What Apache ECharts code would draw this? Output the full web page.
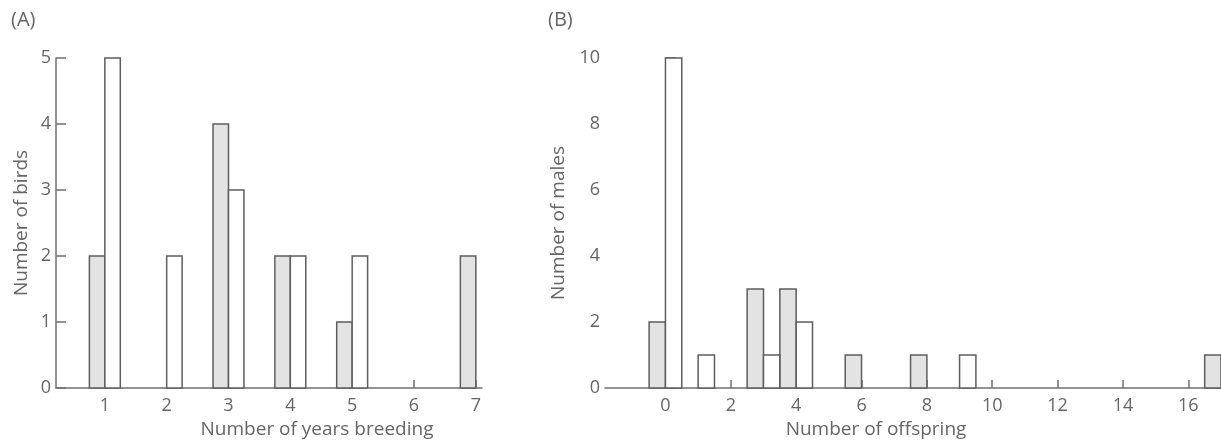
<!DOCTYPE html>
<html>
<head>
<meta charset="utf-8">
<script src="https://cdn.jsdelivr.net/npm/echarts@6/dist/echarts.min.js"></script>
<style>
  html, body { margin: 0; padding: 0; background: #fff; }
  #chart { width: 1221px; height: 446px; }
</style>
</head>
<body>
<div id="chart"></div>
<script>
// Panel A: number of years breeding
const yearsCats = [1, 2, 3, 4, 5, 6, 7];
const yearsShaded = [2, 0, 4, 2, 1, 0, 2];
const yearsOpen = [5, 2, 3, 2, 2, 0, 0];
const yearsTicks = [1, 2, 3, 4, 5, 6, 7];

// Panel B: number of offspring
const offspringCats = [0, 1, 2, 3, 4, 5, 6, 7, 8, 9, 10, 11, 12, 13, 14, 15, 16, 17];
const offspringShaded = [2, 0, 0, 3, 3, 0, 1, 0, 1, 0, 0, 0, 0, 0, 0, 0, 0, 1];
const offspringOpen = [10, 1, 0, 1, 2, 0, 0, 0, 0, 1, 0, 0, 0, 0, 0, 0, 0, 0];
const offspringTicks = [0, 2, 4, 6, 8, 10, 12, 14, 16];

const textColor = '#666';
const lineColor = '#707070';
const font = 'Open Sans';

const pairs = (cats, vals) => cats.map((c, i) => [c, vals[i]]).filter(d => d[1] > 0);

// bar drawn from x+from to x+to (data units) through the axis scales
function barSeries(gridIdx, data, from, to, fill) {
  return {
    type: 'custom',
    xAxisIndex: gridIdx,
    yAxisIndex: gridIdx,
    data: data,
    renderItem: (params, api) => {
      const x = api.value(0);
      const p0 = api.coord([x + from, api.value(1)]);
      const p1 = api.coord([x + to, 0]);
      return {
        type: 'rect',
        shape: { x: p0[0], y: p0[1], width: p1[0] - p0[0], height: p1[1] - p0[1] },
        style: { fill: fill, stroke: '#5e5e5e', lineWidth: 1.5 }
      };
    }
  };
}

function xAxis(gridIdx, min, max, ticks, name, pad) {
  return {
    type: 'value', gridIndex: gridIdx, min: min, max: max,
    name: name, nameLocation: 'middle', nameGap: 30,
    nameTextStyle: { color: textColor, fontFamily: font, fontSize: 19, padding: pad },
    axisLine: { show: true, lineStyle: { color: lineColor, width: 1.5 } },
    axisTick: { show: true, inside: true, length: 8, customValues: ticks, lineStyle: { color: lineColor, width: 1.5 } },
    axisLabel: { customValues: ticks, color: textColor, fontFamily: font, fontSize: 18, margin: 9 },
    splitLine: { show: false }
  };
}

function yAxis(gridIdx, max, interval, name, gap) {
  return {
    type: 'value', gridIndex: gridIdx, min: 0, max: max, interval: interval,
    name: name, nameLocation: 'middle', nameGap: gap,
    nameTextStyle: { color: textColor, fontFamily: font, fontSize: 19 },
    axisLine: { show: true, lineStyle: { color: lineColor, width: 1.5 } },
    axisTick: { show: true, inside: true, length: 10, lineStyle: { color: lineColor, width: 1.5 } },
    axisLabel: { color: textColor, fontFamily: font, fontSize: 18, margin: 5 },
    splitLine: { show: false }
  };
}

const chart = echarts.init(document.getElementById('chart'), null, { renderer: 'canvas' });

chart.setOption({
  animation: false,
  backgroundColor: '#fff',
  title: [
    { text: '(A)', left: 6, top: 5, textStyle: { color: textColor, fontFamily: font, fontSize: 20, fontWeight: 'normal' } },
    { text: '(B)', left: 543, top: 5, textStyle: { color: textColor, fontFamily: font, fontSize: 20, fontWeight: 'normal' } }
  ],
  grid: [
    { left: 56, top: 58, width: 426, height: 330 },
    { left: 605, top: 58, right: 0, height: 330 }
  ],
  xAxis: [
    xAxis(0, 0.21, 7.1, yearsTicks, 'Number of years breeding', [0, 0, 0, 96]),
    xAxis(1, -1.85, 17, offspringTicks, 'Number of offspring', [0, 74, 0, 0])
  ],
  yAxis: [
    yAxis(0, 5, 1, 'Number of birds', 25),
    yAxis(1, 10, 2, 'Number of males', 33)
  ],
  series: [
    barSeries(0, pairs(yearsCats, yearsShaded), -0.25, 0, '#e3e3e3'),
    barSeries(0, pairs(yearsCats, yearsOpen), 0, 0.25, '#ffffff'),
    barSeries(1, pairs(offspringCats, offspringShaded), -0.5, 0, '#e3e3e3'),
    barSeries(1, pairs(offspringCats, offspringOpen), 0, 0.5, '#ffffff')
  ]
});
</script>
</body>
</html>
